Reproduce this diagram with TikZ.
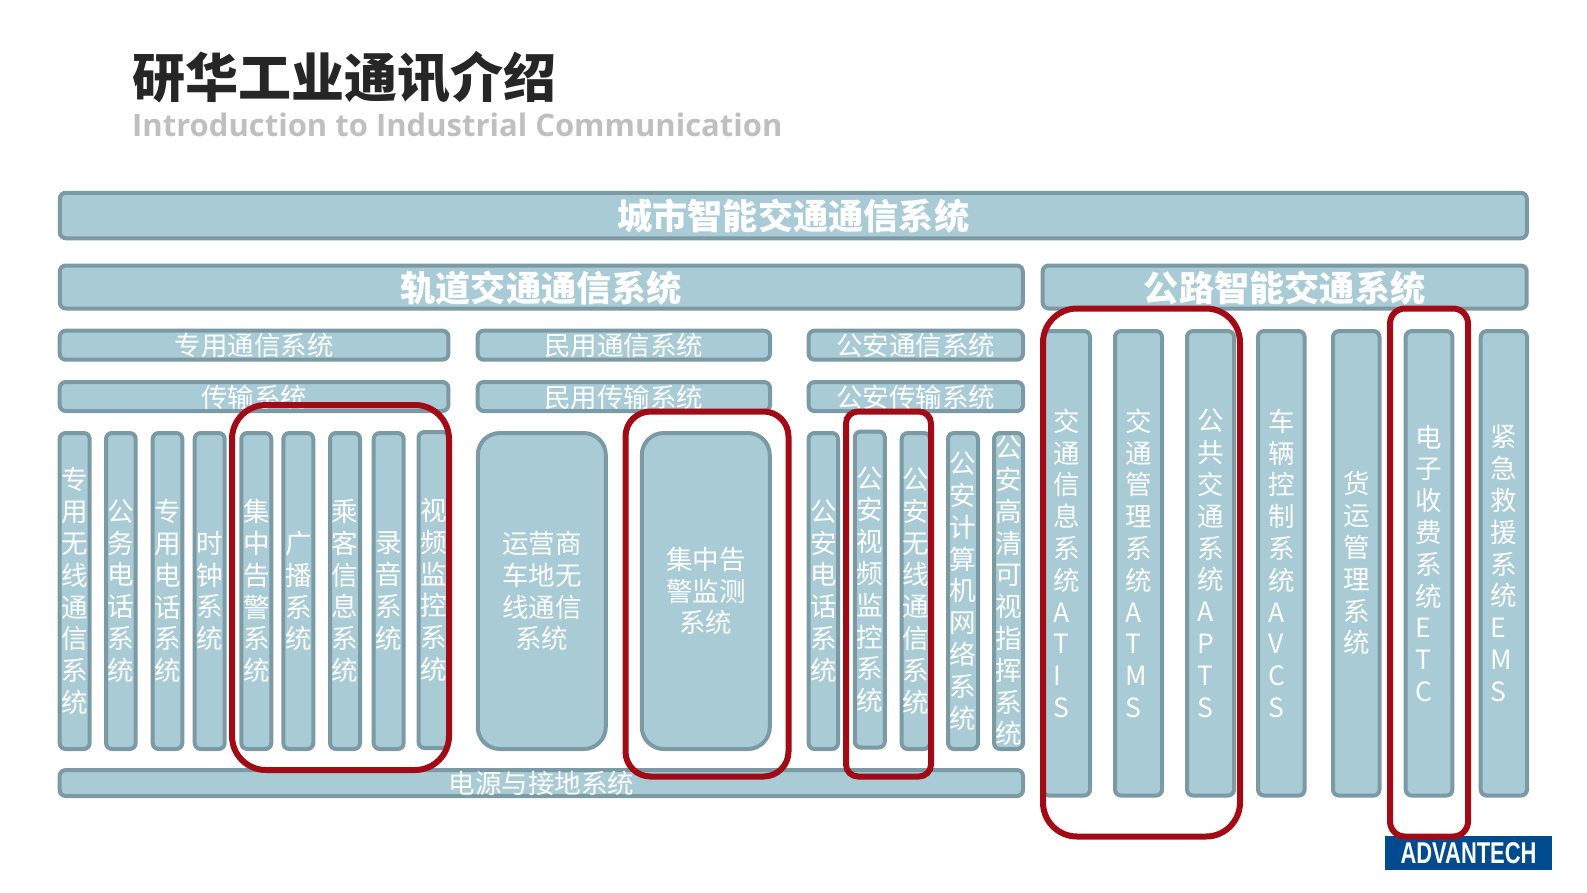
\documentclass[tikz,border=0pt]{standalone}
\usepackage{fontspec}
\setmainfont{Noto Sans CJK SC}
\newfontfamily\latinfont{Open Sans}
\newfontfamily\logofont{Liberation Sans}
\definecolor{barfill}{HTML}{A8CBD5}
\definecolor{barline}{HTML}{7C9AA4}
\definecolor{frameline}{HTML}{A20A16}
\definecolor{logoblue}{HTML}{004B8D}
\newcommand{\bartext}[1]{\raisebox{-.4em}[0pt][0pt]{#1}}
\tikzset{
sysbar/.style={draw=barline,fill=barfill,line width=4,rounded corners=6,text=white,inner sep=0},
bigbar/.style={sysbar,font=\fontsize{35.2}{40}\selectfont\bfseries},
subbar/.style={sysbar,font=\fontsize{26.5}{31.8}\selectfont},
sysbox/.style={sysbar,align=center,font=\fontsize{26.5}{31.8}\selectfont},
redframe/.style={draw=frameline,line width=6,inner sep=0}
}
\begin{document}
\begin{tikzpicture}[x=1pt,y=-1pt]
\useasboundingbox(0,0) rectangle (1587,892);
\node[text=black!85,font=\fontsize{53}{60}\selectfont\bfseries,anchor=west,inner sep=0](title)at(132,77){研华工业通讯介绍};
\node[text=black!25,font=\fontsize{31}{38}\selectfont\bfseries\latinfont,anchor=west,inner sep=0](subtitle)at(132,125){Introduction to Industrial Communication};
\node[bigbar,minimum width=1467,minimum height=45.5](city)at(793.3,215.5){\bartext{城市智能交通通信系统}};
\node[bigbar,minimum width=963,minimum height=43](rail)at(541.3,287){\bartext{轨道交通通信系统}};
\node[bigbar,minimum width=484,minimum height=43](road)at(1284.7,287){\bartext{公路智能交通系统}};
\foreach \nm/\xl/\xr/\yc/\hh/\txt in {
private/57.7/450.4/345.2/29/专用通信系统,
civil/475.7/772/345.2/29/民用通信系统,
police/806.6/1025/345.2/29/公安通信系统,
transfer/57.7/450.4/396.5/29/传输系统,
civiltransfer/475.7/772/396.5/29/民用传输系统,
policetransfer/806.6/1025/396.5/29/公安传输系统,
power/57.7/1025/783/26/电源与接地系统}{
\node[subbar,minimum width={\xr-\xl-4},minimum height=\hh](\nm)at({(\xl+\xr)/2},\yc){\bartext{\txt}};
}
\foreach \nm/\xl/\xr/\txt in {
wireless/57.7/91.7/{专\\用\\无\\线\\通\\信\\系\\统},
duty/104/137.7/{公\\务\\电\\话\\系\\统},
dedicated/150.7/184.3/{专\\用\\电\\话\\系\\统},
clock/192.7/226.7/{时\\钟\\系\\统},
alarm/239.3/273.3/{集\\中\\告\\警\\系\\统},
broadcast/281.3/315.3/{广\\播\\系\\统},
passenger/328/362/{乘\\客\\信\\息\\系\\统},
recording/371.7/405.7/{录\\音\\系\\统},
policephone/806.6/840/{公\\安\\电\\话\\系\\统},
policeradio/899.7/932/{公\\安\\无\\线\\通\\信\\系\\统},
policenet/946/980/{公\\安\\计\\算\\机\\网\\络\\系\\统},
policehd/992/1025/{公\\安\\高\\清\\可\\视\\指\\挥\\系\\统}}{
\node[sysbox,align=left,minimum width={\xr-\xl-4},minimum height=316](\nm)at({(\xl+\xr)/2},591){\txt};
}
\node[sysbox,align=left,minimum width=30,minimum height=316](video)at(433.5,590){视\\频\\监\\控\\系\\统};
\node[sysbox,align=left,minimum width=30,minimum height=316](policevideo)at(869.8,589.5){公\\安\\视\\频\\监\\控\\系\\统};
\node[sysbox,rounded corners=22,minimum width=128,minimum height=316](operator)at(541.8,591){运营商\\车地无\\线通信\\系统};
\node[sysbox,rounded corners=22,minimum width=128,minimum height=316](civilalarm)at(705.8,591){集中告\\警监测\\系统};
\foreach \nm/\xl/\xr/\txt in {
atis/1041/1092/{交\\通\\信\\息\\系\\统\\A\\T\\I\\S},
atms/1113/1164/{交\\通\\管\\理\\系\\统\\A\\T\\M\\S},
apts/1185/1236/{公\\共\\交\\通\\系\\统\\A\\P\\T\\S},
avcs/1256/1306.6/{车\\辆\\控\\制\\系\\统\\A\\V\\C\\S},
freight/1331/1381.5/{货\\运\\管\\理\\系\\统},
etc/1403.7/1454.4/{电\\子\\收\\费\\系\\统\\E\\T\\C},
ems/1478.7/1529/{紧\\急\\救\\援\\系\\统\\E\\M\\S}}{
\node[sysbox,align=left,minimum width={\xr-\xl-4},minimum height=464.5](\nm)at({(\xl+\xr)/2},563.3){\txt};
}
\node[fill=logoblue,text=white,inner sep=0,minimum width=167,minimum height=34](logo)at(1468.5,853){\resizebox{136pt}{21pt}{\logofont\bfseries ADVANTECH}};
\node[redframe,rounded corners=34,minimum width=217,minimum height=365](frameone)at(340.5,587.5){};
\node[redframe,rounded corners=25,minimum width=163,minimum height=365](frametwo)at(707,594){};
\node[redframe,rounded corners=12,minimum width=85,minimum height=365](framethree)at(888.5,594){};
\node[redframe,rounded corners=34,minimum width=197,minimum height=528](framefour)at(1141.5,572.5){};
\node[redframe,rounded corners=15,minimum width=78,minimum height=528](framefive)at(1429,572.5){};
\end{tikzpicture}
\end{document}
